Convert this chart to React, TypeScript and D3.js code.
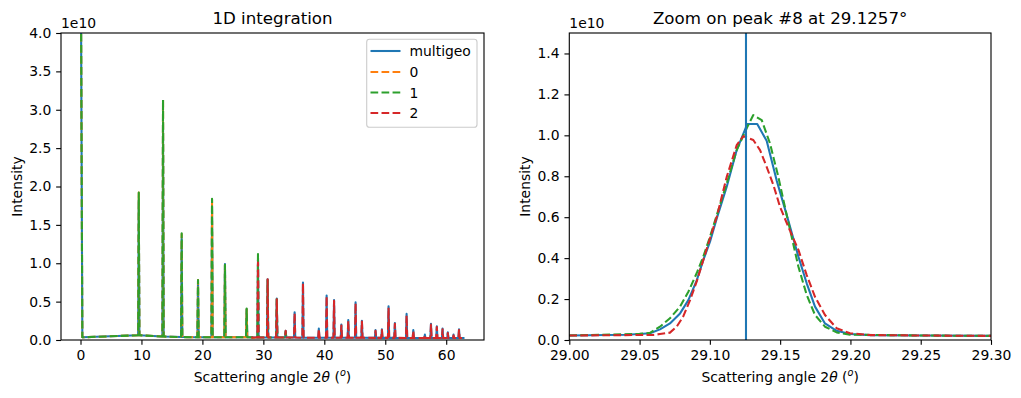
import { useEffect, useRef } from "react";
import * as d3 from "d3";

const W = 1021;
const H = 398;
const FONT = "DejaVu Sans, Verdana, sans-serif";
const LW = 2.08; // 1.5pt
const DASH = "7.7,3.33";

const seriesNames = ["multigeo", "0", "1", "2"];
const seriesColors = ["#1f77b4", "#ff7f0e", "#2ca02c", "#d62728"];
const seriesDashed = [false, true, true, true];

// 1D pattern: Bragg peak positions (2theta, deg) and intensities (x 1e10)
const peakPos = [
  9.56, 13.54, 16.6, 19.28, 21.58, 23.7, 27.26, 29.12, 30.7, 32.2, 33.66, 35.13,
  36.5, 39.1, 40.38, 41.6, 42.8, 43.93, 45.13, 46.17, 48.4, 49.45, 50.54, 51.58,
  53.5, 54.6, 56.5, 57.5, 58.46, 59.4, 60.26, 61.2, 62.1,
];
const peakFoot = [
  0.062, 0.045, 0.038, 0.035, 0.035, 0.035, 0.035, 0.033, 0.033, 0.032, 0.032,
  0.032, 0.03, 0.03, 0.03, 0.03, 0.03, 0.03, 0.03, 0.03, 0.028, 0.028, 0.028,
  0.028, 0.026, 0.026, 0.025, 0.025, 0.025, 0.025, 0.025, 0.025, 0.025,
];
const peakMultigeo = [
  1.82, 2.82, 1.32, 0.75, 1.75, 0.99, 0.4, 1.05, 0.79, 0.54, 0.12, 0.36, 0.75,
  0.15, 0.58, 0.52, 0.2, 0.26, 0.49, 0.25, 0.13, 0.14, 0.44, 0.22, 0.34, 0.13,
  0.07, 0.21, 0.18, 0.15, 0.1, 0.07, 0.14,
];
const peak0 = [
  1.92, 3.13, 1.38, 0.78, 1.83, 0.97, 0.4, null, null, null, null, null, null,
  null, null, null, null, null, null, null, null, null, null, null, null, null,
  null, null, null, null, null, null, null,
];
const peak1 = [
  1.92, 3.13, 1.39, 0.78, 1.84, 0.98, 0.41, 1.12, 0.78, 0.53, 0.11, null, null,
  null, null, null, null, null, null, null, null, null, null, null, null, null,
  null, null, null, null, null, null, null,
];
const peak2 = [
  null, null, null, null, null, null, null, 1.01, 0.79, 0.53, 0.12, 0.35, 0.74,
  0.14, 0.57, 0.51, 0.19, 0.25, 0.48, 0.24, 0.12, 0.13, 0.42, 0.21, 0.32, 0.12,
  0.06, 0.2, 0.17, 0.14, 0.09, 0.06, 0.13,
];
const seriesPeaks = [peakMultigeo, peak0, peak1, peak2];
const seriesStart = [0, 0, 0, 28.0];
const seriesEnd = [63.0, 28.6, 34.5, 62.6];
const beamX = [0.0, 0.3];
const beamY = [6.0, 0.035];
const startFoot = 0.033;
const endFoot = 0.025;

// zoom on peak #8
const peakCenter = 29.1257;
const zoomXMultigeo = [
  29.0, 29.04, 29.05, 29.0574, 29.0645, 29.0716, 29.0788, 29.0847, 29.0906,
  29.0953, 29.1001, 29.1049, 29.112, 29.1191, 29.1266, 29.1337, 29.1404, 29.1475,
  29.1547, 29.163, 29.1689, 29.1748, 29.1819, 29.1902, 29.1997, 29.214, 29.25, 29.3,
];
const zoomYMultigeo = [
  0.022, 0.026, 0.029, 0.033, 0.052, 0.081, 0.13, 0.195, 0.29, 0.39, 0.48, 0.594,
  0.749, 0.928, 1.055, 1.055, 0.973, 0.78, 0.61, 0.407, 0.277, 0.163, 0.081,
  0.045, 0.029, 0.024, 0.022, 0.02,
];
const zoomX1 = [
  29.0, 29.05, 29.0574, 29.0645, 29.0716, 29.0788, 29.0847, 29.0906, 29.0953,
  29.1001, 29.1049, 29.112, 29.1191, 29.1266, 29.1309, 29.1369, 29.1428, 29.1487,
  29.1547, 29.1582, 29.163, 29.1689, 29.1748, 29.1819, 29.1902, 29.1997, 29.25, 29.3,
];
const zoomY1 = [
  0.022, 0.03, 0.035, 0.065, 0.106, 0.163, 0.236, 0.326, 0.407, 0.504, 0.61,
  0.765, 0.928, 1.04, 1.099, 1.074, 0.96, 0.797, 0.61, 0.504, 0.358, 0.22, 0.122,
  0.065, 0.037, 0.026, 0.022, 0.02,
];
const zoomX2 = [
  29.0, 29.06, 29.0645, 29.0716, 29.0764, 29.081, 29.0859, 29.0906, 29.0953,
  29.1001, 29.1049, 29.112, 29.1191, 29.1238, 29.1309, 29.1357, 29.1404, 29.1452,
  29.1499, 29.1558, 29.163, 29.1689, 29.1748, 29.1819, 29.1902, 29.1997, 29.214,
  29.25, 29.3,
];
const zoomY2 = [
  0.022, 0.025, 0.029, 0.036, 0.065, 0.114, 0.195, 0.285, 0.39, 0.497, 0.602,
  0.797, 0.952, 0.996, 0.977, 0.928, 0.846, 0.757, 0.651, 0.553, 0.44, 0.317,
  0.211, 0.122, 0.057, 0.033, 0.024, 0.022, 0.02,
];

const leftXTicks = [0, 10, 20, 30, 40, 50, 60];
const leftYTicks = [0, 0.5, 1.0, 1.5, 2.0, 2.5, 3.0, 3.5, 4.0];
const rightXTicks = [29.0, 29.05, 29.1, 29.15, 29.2, 29.25, 29.3];
const rightYTicks = [0, 0.2, 0.4, 0.6, 0.8, 1.0, 1.2, 1.4];

const leftBox = { x0: 61, x1: 484, y0: 33, y1: 340 };
const rightBox = { x0: 569.3, x1: 991, y0: 33, y1: 340 };

function drawFrame(
  svg: any,
  id: string,
  box: any,
  x: any,
  y: any,
  xTicks: number[],
  yTicks: number[],
  xFmt: string,
  title: string,
  ylabelX: number
) {
  const g = svg.append("g");

  svg
    .append("defs")
    .append("clipPath")
    .attr("id", id)
    .append("rect")
    .attr("x", box.x0)
    .attr("y", box.y0)
    .attr("width", box.x1 - box.x0)
    .attr("height", box.y1 - box.y0);

  const xAxis = g
    .append("g")
    .attr("transform", "translate(0," + box.y1 + ")")
    .call(
      d3
        .axisBottom(x)
        .tickValues(xTicks)
        .tickFormat(d3.format(xFmt))
        .tickSize(4.86)
        .tickPadding(4.86)
        .tickSizeOuter(0)
    );
  const yAxis = g
    .append("g")
    .attr("transform", "translate(" + box.x0 + ",0)")
    .call(
      d3
        .axisLeft(y)
        .tickValues(yTicks)
        .tickFormat(d3.format(".1f"))
        .tickSize(4.86)
        .tickPadding(4.86)
        .tickSizeOuter(0)
    );
  [xAxis, yAxis].forEach((a) => {
    a.select(".domain").remove();
    a.attr("font-family", FONT).attr("font-size", 13.9);
    a.selectAll("line").attr("stroke", "#000").attr("stroke-width", 1.11);
    a.selectAll("text").attr("fill", "#000");
  });

  // title
  g.append("text")
    .attr("x", (box.x0 + box.x1) / 2)
    .attr("y", 24)
    .attr("text-anchor", "middle")
    .attr("font-family", FONT)
    .attr("font-size", 16.67)
    .text(title);

  // offset text
  g.append("text")
    .attr("x", box.x0)
    .attr("y", 27.5)
    .attr("font-family", FONT)
    .attr("font-size", 13.9)
    .text("1e10");

  // y label
  g.append("text")
    .attr("transform", "translate(" + ylabelX + "," + (box.y0 + box.y1) / 2 + ")rotate(-90)")
    .attr("text-anchor", "middle")
    .attr("font-family", FONT)
    .attr("font-size", 13.9)
    .text("Intensity");

  // x label with math
  const xl = g
    .append("text")
    .attr("x", (box.x0 + box.x1) / 2)
    .attr("y", 381.5)
    .attr("text-anchor", "middle")
    .attr("font-family", FONT)
    .attr("font-size", 13.9);
  xl.append("tspan").text("Scattering angle 2");
  xl.append("tspan").attr("font-style", "italic").text("θ");
  xl.append("tspan").text(" (");
  xl.append("tspan")
    .attr("font-style", "italic")
    .attr("font-size", 9.7)
    .attr("dy", -5.5)
    .text("o");
  xl.append("tspan").attr("dy", 5.5).text(")");

  return g;
}

function drawFrameBorder(svg: any, box: any) {
  svg
    .append("rect")
    .attr("x", box.x0)
    .attr("y", box.y0)
    .attr("width", box.x1 - box.x0)
    .attr("height", box.y1 - box.y0)
    .attr("fill", "none")
    .attr("stroke", "#000")
    .attr("stroke-width", 1.11);
}

function buildSeries(s: number) {
  const pts: [number, number][] = [];
  if (seriesStart[s] === 0) {
    beamX.forEach((bx, i) => pts.push([bx, beamY[i]]));
  } else {
    pts.push([seriesStart[s], startFoot]);
  }
  const heights = seriesPeaks[s];
  peakPos.forEach((p, i) => {
    const h = heights[i];
    if (h == null) return;
    pts.push([p - 0.1, peakFoot[i]]);
    pts.push([p, h]);
    pts.push([p + 0.1, peakFoot[i]]);
  });
  pts.push([seriesEnd[s], endFoot]);
  return pts;
}

function styleLine(path: any, s: number) {
  path
    .attr("fill", "none")
    .attr("stroke", seriesColors[s])
    .attr("stroke-width", LW)
    .attr("stroke-linejoin", "round");
  if (seriesDashed[s]) path.attr("stroke-dasharray", DASH);
}

function createChart(svgEl: SVGSVGElement) {
  const svg = d3.select(svgEl);
  svg.selectAll("*").remove();

  // ---------- left panel ----------
  const xl = d3.scaleLinear().domain([-3.2, 66.2]).range([leftBox.x0, leftBox.x1]);
  const yl = d3.scaleLinear().domain([0, 4]).range([leftBox.y1, leftBox.y0]);
  drawFrame(svg, "clipL", leftBox, xl, yl, leftXTicks, leftYTicks, "d", "1D integration", 21.5);

  const lineL = d3
    .line<[number, number]>()
    .x((d) => xl(d[0]))
    .y((d) => yl(d[1]));
  const gl = svg.append("g").attr("clip-path", "url(#clipL)");
  seriesNames.forEach((_, s) => {
    const p = gl.append("path").datum(buildSeries(s)).attr("d", lineL);
    styleLine(p, s);
  });
  drawFrameBorder(svg, leftBox);

  // legend
  const lg = svg.append("g").attr("font-family", FONT).attr("font-size", 13.9);
  lg.append("rect")
    .attr("x", 366.7)
    .attr("y", 39.3)
    .attr("width", 110.3)
    .attr("height", 88)
    .attr("rx", 2.8)
    .attr("fill", "#fff")
    .attr("fill-opacity", 0.8)
    .attr("stroke", "#cccccc")
    .attr("stroke-width", 1.11);
  const rowY = [51, 72, 92.5, 113];
  seriesNames.forEach((name, s) => {
    const l = lg
      .append("line")
      .attr("x1", 370.5)
      .attr("x2", 400.5)
      .attr("y1", rowY[s])
      .attr("y2", rowY[s]);
    styleLine(l, s);
    lg.append("text")
      .attr("x", 409.5)
      .attr("y", rowY[s] + 5)
      .attr("fill", "#000")
      .text(name);
  });

  // ---------- right panel ----------
  const xr = d3.scaleLinear().domain([29.0, 29.3]).range([rightBox.x0, rightBox.x1]);
  const yr = d3.scaleLinear().domain([0, 1.5]).range([rightBox.y1, rightBox.y0]);
  drawFrame(
    svg,
    "clipR",
    rightBox,
    xr,
    yr,
    rightXTicks,
    rightYTicks,
    ".2f",
    "Zoom on peak #8 at 29.1257°",
    530
  );

  const lineR = d3
    .line<[number, number]>()
    .x((d) => xr(d[0]))
    .y((d) => yr(d[1]));
  const gr = svg.append("g").attr("clip-path", "url(#clipR)");
  const zoomSeries: [number, number[], number[]][] = [
    [0, zoomXMultigeo, zoomYMultigeo],
    [2, zoomX1, zoomY1],
    [3, zoomX2, zoomY2],
  ];
  zoomSeries.forEach(([s, xs, ys]) => {
    const pts = xs.map((xv, i) => [xv, ys[i]] as [number, number]);
    const p = gr.append("path").datum(pts).attr("d", lineR);
    styleLine(p, s);
  });
  gr.append("line")
    .attr("x1", xr(peakCenter))
    .attr("x2", xr(peakCenter))
    .attr("y1", rightBox.y0)
    .attr("y2", rightBox.y1)
    .attr("stroke", seriesColors[0])
    .attr("stroke-width", LW);
  drawFrameBorder(svg, rightBox);
}

export default function App() {
  const ref = useRef<SVGSVGElement>(null);
  useEffect(() => {
    if (ref.current) createChart(ref.current);
  }, []);
  return (
    <svg
      ref={ref}
      width={W}
      height={H}
      style={{ position: "absolute", left: 0, top: 0, background: "#fff" }}
    />
  );
}
